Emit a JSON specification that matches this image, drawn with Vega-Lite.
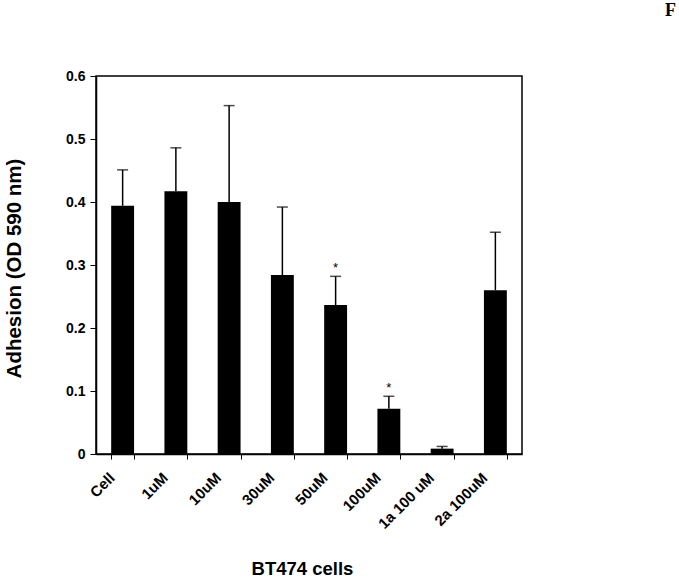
{
  "$schema": "https://vega.github.io/schema/vega-lite/v6.json",
  "width": 426,
  "height": 378,
  "autosize": {"type": "none"},
  "padding": {"left": 96, "top": 76, "right": 157, "bottom": 127},
  "background": "white",
  "title": {
    "text": "F",
    "anchor": "end",
    "font": "Liberation Serif",
    "fontSize": 18,
    "fontWeight": "bold",
    "color": "black",
    "baseline": "alphabetic",
    "dx": 154,
    "offset": 35
  },
  "config": {
    "view": {"stroke": "black", "strokeWidth": 1.5},
    "axis": {
      "domainColor": "black",
      "tickColor": "black",
      "labelColor": "black",
      "titleColor": "black",
      "labelFont": "Liberation Sans",
      "titleFont": "Liberation Sans",
      "labelFontWeight": "bold",
      "titleFontWeight": "bold",
      "grid": false
    }
  },
  "data": {
    "values": [
      {"group": "Cell", "value": 0.394, "upper": 0.451, "sig": ""},
      {"group": "1uM", "value": 0.417, "upper": 0.486, "sig": ""},
      {"group": "10uM", "value": 0.400, "upper": 0.553, "sig": ""},
      {"group": "30uM", "value": 0.284, "upper": 0.392, "sig": ""},
      {"group": "50uM", "value": 0.2365, "upper": 0.282, "sig": "*"},
      {"group": "100uM", "value": 0.072, "upper": 0.0916, "sig": "*"},
      {"group": "1a  100 uM", "value": 0.0085, "upper": 0.012, "sig": ""},
      {"group": "2a 100uM", "value": 0.260, "upper": 0.352, "sig": ""}
    ]
  },
  "encoding": {
    "x": {
      "field": "group",
      "type": "nominal",
      "sort": null,
      "scale": {"paddingInner": 0.57, "paddingOuter": 0.285},
      "axis": {
        "title": "BT474 cells",
        "titleFontSize": 18.5,
        "titleX": 206,
        "titleY": 120,
        "titleBaseline": "alphabetic",
        "labelAngle": -45,
        "labelFontSize": 15,
        "labelAlign": "right",
        "labelBaseline": "middle",
        "labelPadding": 16,
        "labelOffset": -11,
        "tickBand": "extent",
        "tickSize": 5,
        "domainWidth": 1.5
      }
    }
  },
  "layer": [
    {
      "mark": {"type": "rule", "color": "black", "strokeWidth": 1.5},
      "encoding": {
        "y": {"field": "value", "type": "quantitative"},
        "y2": {"field": "upper"}
      }
    },
    {
      "mark": {"type": "tick", "color": "black", "size": 11, "thickness": 1.5},
      "encoding": {
        "y": {"field": "upper", "type": "quantitative"}
      }
    },
    {
      "mark": {"type": "bar", "color": "black"},
      "encoding": {
        "y": {
          "field": "value",
          "type": "quantitative",
          "scale": {"domain": [0, 0.6], "nice": false},
          "axis": {
            "title": "Adhesion (OD 590 nm)",
            "titleFontSize": 20.5,
            "titleX": -76,
            "titleY": 192,
            "titleBaseline": "alphabetic",
            "labelFontSize": 14,
            "values": [0, 0.1, 0.2, 0.3, 0.4, 0.5, 0.6],
            "format": ".1~f",
            "tickSize": 6,
            "labelPadding": 5,
            "domainWidth": 1.5
          }
        }
      }
    },
    {
      "transform": [{"filter": "datum.sig != ''"}],
      "mark": {"type": "text", "color": "black", "fontSize": 13, "font": "Liberation Sans", "dy": -8},
      "encoding": {
        "y": {"field": "upper", "type": "quantitative"},
        "text": {"field": "sig"}
      }
    }
  ]
}
